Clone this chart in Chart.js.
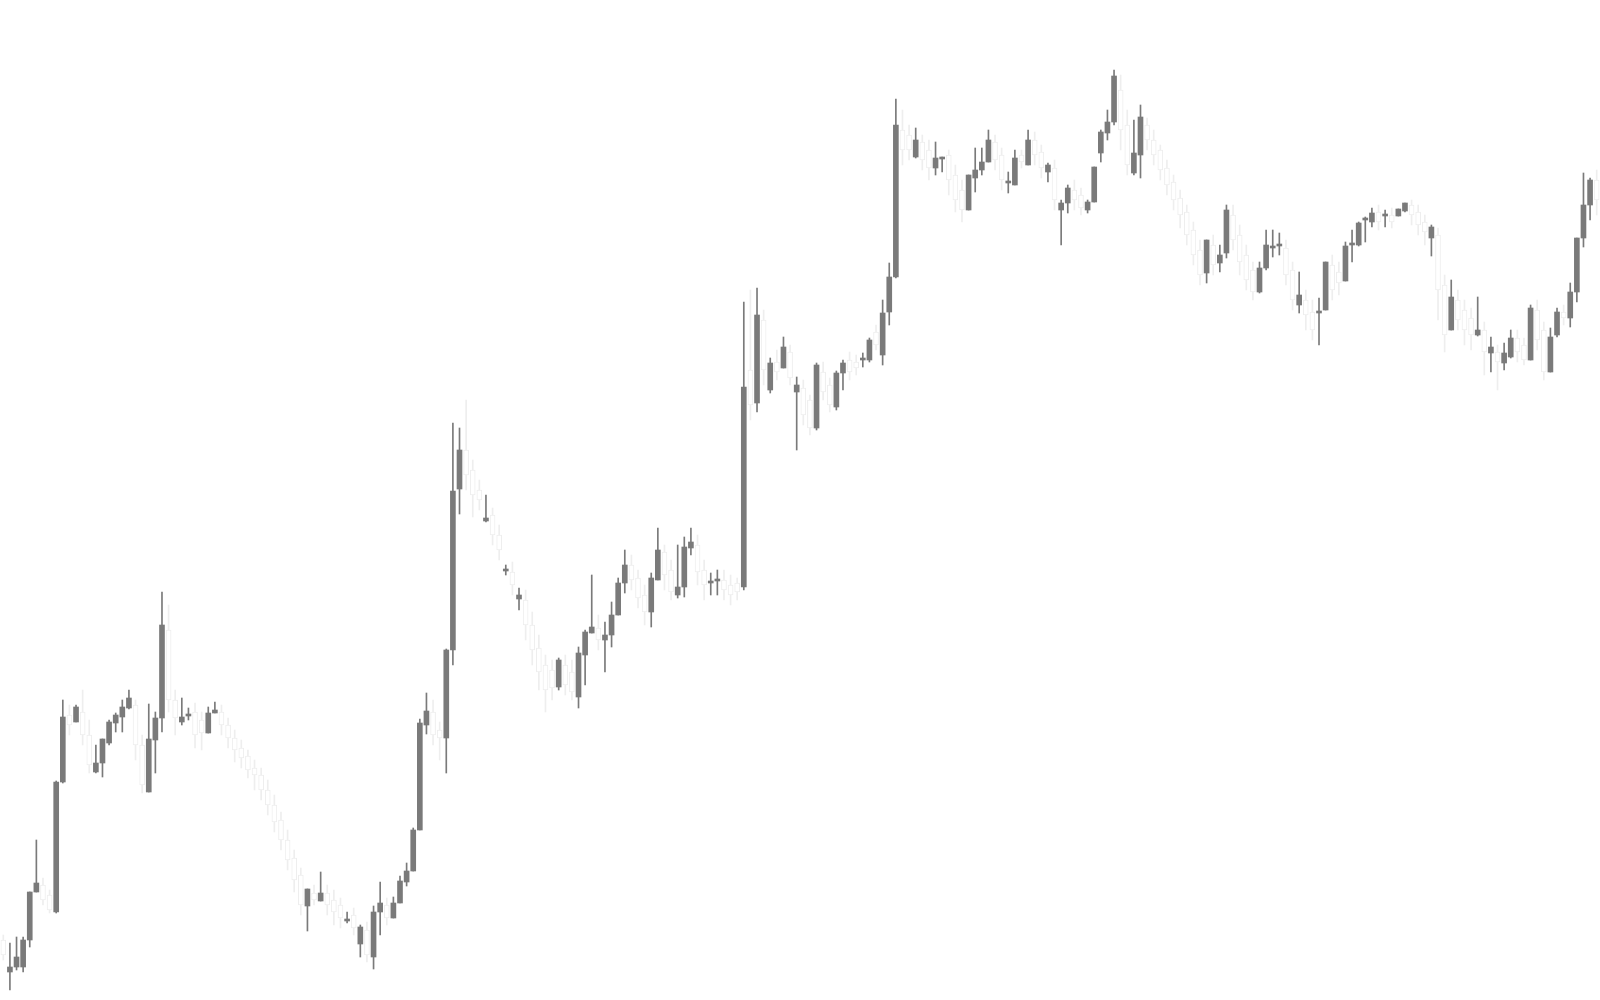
<!DOCTYPE html>
<html>
<head>
<meta charset="utf-8">
<title>Candles</title>
<script src="https://cdn.jsdelivr.net/npm/chart.js@4.4.1/dist/chart.umd.min.js"></script>
<style>
  html, body { margin: 0; padding: 0; background: #ffffff; }
  #wrap { width: 1600px; height: 1000px; position: relative; }
</style>
</head>
<body>
<div id="wrap"><canvas id="container-candles"></canvas></div>
<script>
// price data, one entry per session
const opens = [60,28,33,33,60,108,115,105,88,218,
  285,278,288,265,228,237,257,277,283,292,
  295,255,208,260,282,370,300,278,284,288,
  280,267,287,288,275,262,252,244,232,225,
  210,195,180,160,142,125,94,107,99,107,
  100,95,79,85,56,70,43,88,95,82,
  97,118,129,170,275,288,270,262,350,511,
  550,530,510,479,485,465,429,428,401,400,
  375,352,335,330,313,335,328,303,345,367,
  372,360,365,385,417,435,422,405,388,420,
  448,430,405,413,452,455,430,417,419,420,
  415,417,413,630,597,680,610,638,632,648,
  608,612,600,572,628,615,593,627,640,638,
  640,640,668,645,688,723,870,865,843,858,
  850,832,841,845,825,810,790,822,830,838,
  858,845,817,815,845,835,860,848,828,832,
  790,797,810,805,790,798,847,867,878,910,
  875,827,845,875,860,850,832,818,802,788,
  770,750,727,755,737,747,785,765,745,730,
  708,732,752,754,752,730,695,700,688,687,
  690,735,728,719,755,755,780,778,788,784,
  785,784,789,795,788,778,762,765,715,670,
  700,690,682,665,670,647,648,637,643,662,
  655,640,690,670,628,665,688,682,708,762,
  795,820];

const highs = [65,57,63,63,108,160,122,110,219,300,
  295,295,310,280,255,261,280,287,300,310,
  300,265,296,288,408,395,310,302,292,297,
  288,293,298,295,282,270,260,250,240,232,
  220,205,188,170,150,132,111,115,128,115,
  110,102,88,92,75,78,94,118,102,103,
  124,137,172,281,307,300,278,351,577,572,
  600,540,520,505,492,475,435,438,412,410,
  388,365,345,340,342,345,340,353,370,425,
  385,378,398,422,450,445,430,415,427,472,
  455,440,455,463,472,465,440,427,430,430,
  425,422,698,710,712,690,642,650,663,655,
  623,620,605,637,638,622,629,640,648,645,
  647,662,675,700,737,901,890,875,872,865,
  860,858,843,850,835,820,825,852,852,870,
  865,852,828,850,850,870,868,855,837,840,
  800,815,820,812,800,833,870,890,930,925,
  890,880,895,882,870,855,840,825,810,795,
  778,760,760,765,755,795,795,775,755,738,
  738,770,770,767,760,738,728,710,700,702,
  738,745,738,758,770,778,783,792,795,790,
  792,791,797,800,795,785,775,772,725,720,
  710,700,692,703,678,663,655,657,670,670,
  662,695,700,678,672,692,695,717,762,827,
  822,830];

const lows = [40,10,30,28,53,108,95,87,87,217,
  265,278,255,227,227,223,255,268,268,291,
  240,207,208,227,268,288,265,275,280,252,
  250,267,287,265,252,238,232,222,210,200,
  185,168,150,130,108,85,69,95,99,85,
  75,72,77,65,43,38,31,65,75,82,
  97,114,129,170,266,255,240,227,335,486,
  510,483,490,478,455,440,425,405,390,360,
  335,310,288,300,310,305,300,292,315,367,
  350,328,353,385,407,410,392,375,373,420,
  410,400,402,403,445,415,400,405,405,400,
  395,400,410,580,588,615,607,620,632,615,
  550,575,565,570,600,588,590,610,620,625,
  633,638,650,635,675,722,835,840,842,830,
  820,825,828,805,788,778,790,808,825,838,
  830,810,807,815,832,835,835,822,818,790,
  755,787,790,785,787,798,838,860,875,850,
  825,825,822,850,835,820,805,790,772,755,
  735,715,717,725,728,742,750,725,710,700,
  707,730,743,745,715,690,687,670,660,655,
  690,700,705,719,738,754,758,773,770,773,
  772,784,788,775,765,755,744,680,648,670,
  670,655,650,664,625,628,610,630,642,638,
  635,640,650,620,628,663,675,673,698,753,
  780,785];

const closes = [45,33,43,60,108,117,100,90,218,283,
  275,293,265,235,237,261,278,285,293,302,
  255,215,261,282,375,300,282,283,286,265,
  267,287,290,275,262,250,242,230,225,210,
  195,178,160,140,120,95,111,100,107,95,
  88,82,81,72,73,45,88,97,82,97,
  119,129,170,277,289,265,262,350,509,550,
  525,505,500,482,465,450,431,415,405,375,
  350,328,310,312,340,315,308,347,368,373,
  360,365,385,417,435,420,402,388,422,450,
  425,408,413,453,458,428,415,419,421,410,
  405,408,613,595,685,630,637,628,653,622,
  615,585,572,635,608,595,627,637,628,632,
  642,660,655,687,723,875,850,850,860,840,
  832,842,843,820,800,790,825,830,838,860,
  840,820,819,842,838,860,845,832,835,800,
  797,812,800,792,798,833,868,878,924,870,
  835,847,883,860,845,830,815,800,785,765,
  745,725,760,735,745,790,760,738,720,708,
  732,755,754,756,725,700,705,685,670,689,
  738,710,717,754,757,777,782,787,778,786,
  778,791,797,785,775,768,773,710,665,703,
  680,670,665,670,648,653,638,647,662,648,
  640,692,660,628,663,688,682,708,762,795,
  820,800];

// one label per session
const sessions = opens.map((_, i) => i + 1);

const UP = "rgb(122, 122, 122)";
const DOWN_FILL = "#ffffff";
const DOWN_LINE = "rgb(238, 238, 238)";

const isUp = (i) => closes[i] >= opens[i];

const drawCandles = (canva) => {
  // bodies go from open to close, wicks from low to high
  const bodies = opens.map((o, i) => [o, closes[i]]);
  const wicks = lows.map((l, i) => [l, highs[i]]);

  const datos = {
    labels: sessions,
    datasets: [
      {
        label: "Body",
        data: bodies,
        grouped: false,
        order: 1,
        barThickness: 5,
        backgroundColor: (ctx) => isUp(ctx.dataIndex) ? UP : DOWN_FILL,
        borderColor: (ctx) => isUp(ctx.dataIndex) ? UP : DOWN_LINE,
        borderWidth: (ctx) => isUp(ctx.dataIndex) ? 0 : 1,
        borderSkipped: false,
      },
      {
        label: "Wick",
        data: wicks,
        grouped: false,
        order: 2,
        barThickness: 1,
        backgroundColor: (ctx) => isUp(ctx.dataIndex) ? UP : DOWN_LINE,
        borderWidth: 0,
      },
    ],
  };

  const opciones = {
    responsive: true,
    maintainAspectRatio: false,
    animation: false,
    devicePixelRatio: 1,
    layout: { padding: 0 },
    plugins: {
      legend: { display: false },
      tooltip: { enabled: false },
    },
    scales: {
      x: { display: false, offset: true },
      y: { display: false, min: 0, max: 1000 },
    },
  };

  new Chart(canva, {
    type: "bar",
    data: datos,
    options: opciones,
  });
};

drawCandles(document.getElementById("container-candles").getContext("2d"));
</script>
</body>
</html>
